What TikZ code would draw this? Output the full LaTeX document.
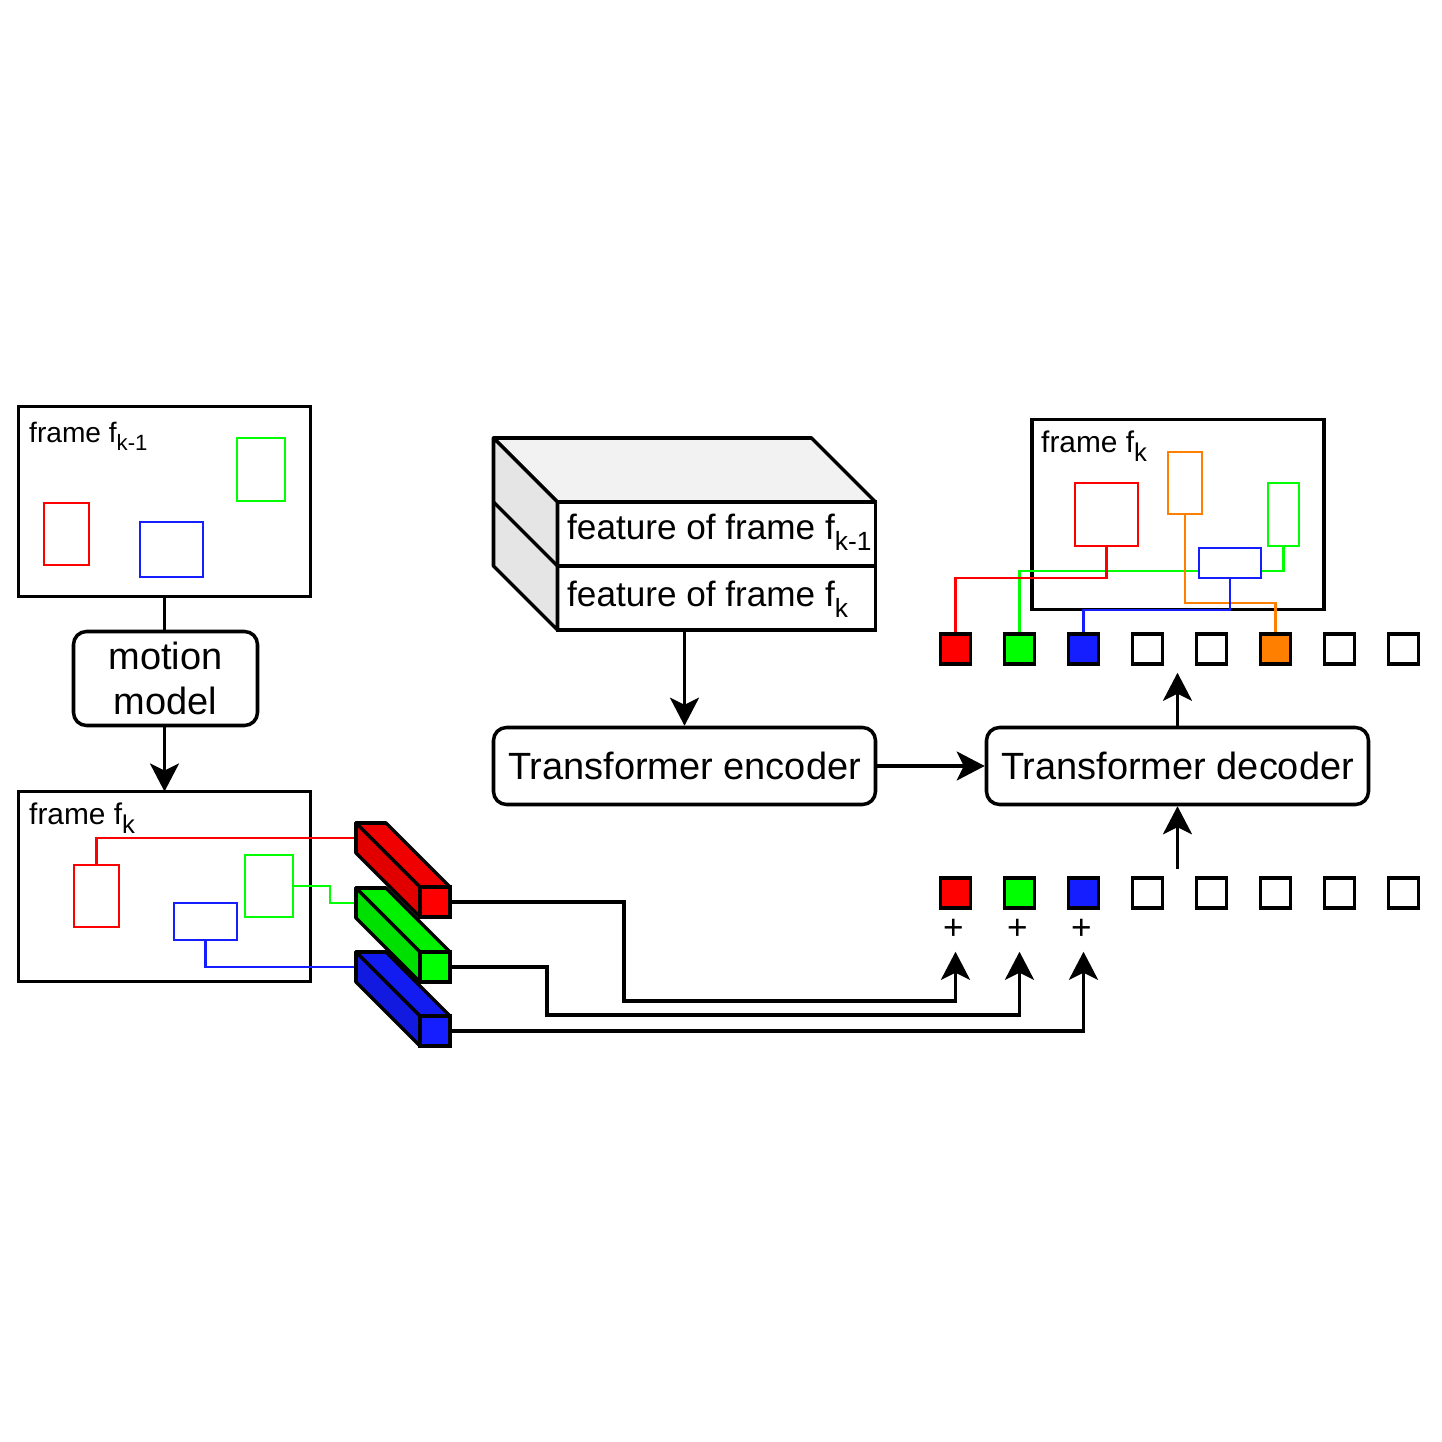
\documentclass[tikz,border=0pt]{standalone}
\usepackage{fontspec}
\setmainfont{Liberation Sans}
\usetikzlibrary{arrows.meta}
\definecolor{objred}{RGB}{255,0,0}
\definecolor{objgreen}{RGB}{0,255,0}
\definecolor{objblue}{RGB}{20,30,255}
\definecolor{objorange}{RGB}{255,128,0}
\newcommand{\fsub}[2]{\raisebox{-0.3em}{\fontsize{#1}{#1}\selectfont #2}}

\begin{document}
\begin{tikzpicture}[>={Stealth[length=0.28cm,width=0.29cm,inset=0.07cm]},
  framebox/.style={draw, line width=1pt, minimum width=2.92cm, minimum height=1.90cm, inner sep=0, outer sep=0},
  obj/.style={draw, line width=0.7pt, fill=white, inner sep=0, outer sep=0},
  block/.style={draw, rounded corners=0.13cm, line width=1pt, inner sep=0, font=\fontsize{10.8}{12.8}\selectfont},
  featbox/.style={draw, line width=1pt, minimum width=3.18cm, minimum height=0.64cm, inner sep=0, outer sep=0},
  feattxt/.style={anchor=base west, inner sep=0, font=\fontsize{10}{12}\selectfont},
  tok/.style={draw, line width=1pt, minimum size=0.30cm, inner sep=0},
  bar/.style={draw, line width=1pt, minimum size=0.30cm, inner sep=0, outer sep=0},
  face/.style={draw, line width=1pt, line join=round},
  link/.style={line width=0.9pt},
  track/.style={line width=0.7pt},
  lbl/.style={inner sep=0, anchor=north west, font=\fontsize{8.5}{10}\selectfont}]
  \useasboundingbox (0,0) rectangle (14.42,14.42);

  % frame f_{k-1}
  \node[framebox] (prev) at (1.645,9.405) {};
  \node[lbl, font=\fontsize{8}{10}\selectfont] (prevlbl) at ([shift={(0.10,-0.15)}]prev.north west) {frame f\fsub{6.3}{k-1}};
  \node[obj, draw=objred, minimum width=0.45cm, minimum height=0.62cm] (pR) at (0.665,9.08) {};
  \node[obj, draw=objblue, minimum width=0.63cm, minimum height=0.55cm] (pB) at (1.715,8.925) {};
  \node[obj, draw=objgreen, minimum width=0.48cm, minimum height=0.63cm] (pG) at (2.61,9.725) {};

  % motion model
  \node[block, minimum width=1.84cm, minimum height=0.94cm, align=center] (motion) at (1.655,7.635) {motion\\model};
  \draw[link] (prev.south) -- (prev.south |- motion.north);

  % frame f_k (prediction)
  \node[framebox] (cur) at (1.645,5.555) {};
  \node[lbl] (curlbl) at ([shift={(0.10,-0.105)}]cur.north west) {frame f\fsub{7.3}{k}};
  \node[obj, draw=objred, minimum width=0.45cm, minimum height=0.62cm] (cR) at (0.965,5.46) {};
  \node[obj, draw=objgreen, minimum width=0.48cm, minimum height=0.62cm] (cG) at (2.69,5.56) {};
  \node[obj, draw=objblue, minimum width=0.63cm, minimum height=0.37cm] (cB) at (2.055,5.205) {};
  \draw[link,->] (prev.south |- motion.south) -- (cur.north);

  % query bars
  \node[bar, fill=objred] (barR) at (4.35,5.40) {};
  \node[bar, fill=objgreen] (barG) at (4.35,4.75) {};
  \node[bar, fill=objblue] (barB) at (4.35,4.11) {};
  \draw[track, objred] (cR.north) |- ([shift={(-0.64,0.64)}]barR.west);
  \draw[track, objgreen] (cG.east) -- ++(0.37,0) |- ([shift={(-0.64,0.64)}]barG.west);
  \draw[track, objblue] (cB.south) |- ([shift={(-0.64,0.64)}]barB.west);
  \foreach \b/\col in {barR/objred, barG/objgreen, barB/objblue} {
    \draw[face, fill=\col!94!black] (\b.north west) -- ++(-0.64,0.64) -- ++(0.30,0) -- (\b.north east) -- cycle;
    \draw[face, fill=\col!88!black] (\b.north west) -- ++(-0.64,0.64) -- ++(0,-0.30) -- (\b.south west) -- cycle;
  }

  % feature block
  \node[featbox] (featA) at (7.165,9.08) {};
  \node[featbox] (featB) at (7.165,8.44) {};
  \draw[face, fill=black!5] (featA.north west) -- ++(-0.64,0.64) -- ++(3.18,0) -- (featA.north east) -- cycle;
  \draw[face, fill=black!10] (featA.north west) -- ++(-0.64,0.64) -- ++(0,-1.28) -- (featB.south west) -- cycle;
  \draw[face] (featA.south west) -- ++(-0.64,0.64);
  \node[feattxt] (featAtxt) at ([shift={(0.09,-0.06)}]featA.west) {feature of frame f\fsub{7.5}{k-1}};
  \node[feattxt] (featBtxt) at ([shift={(0.09,-0.09)}]featB.west) {feature of frame f\fsub{7.5}{k}};

  % transformer
  \node[block, minimum width=3.82cm, minimum height=0.77cm] (enc) at (6.845,6.76) {Transformer encoder};
  \node[block, minimum width=3.82cm, minimum height=0.77cm] (dec) at (11.775,6.76) {Transformer decoder};
  \draw[link,->] (enc.north |- featB.south) -- (enc.north);
  \draw[link,->] (enc.east) -- (dec.west);

  % query tokens
  \foreach \i/\f in {1/objred, 2/objgreen, 3/objblue, 4/white, 5/white, 6/white, 7/white, 8/white}
    \node[tok, fill=\f] (tB\i) at ({9.555+0.64*(\i-1)},5.49) {};
  \foreach \i in {1,2,3}
    \node[inner sep=0, font=\fontsize{10}{12}\selectfont] (pl\i) at ([shift={(-0.02,-0.36)}]tB\i.center) {+};
  \draw[link,->, shorten >=0.42cm] (barR.east) -| (6.24,4.41) -| (tB1.south);
  \draw[link,->, shorten >=0.42cm] (barG.east) -| (5.47,4.27) -| (tB2.south);
  \draw[link,->, shorten >=0.42cm] (barB.east) -| (tB3.south);
  \draw[link,->] ([yshift=0.07cm]dec.south |- tB4.north) -- (dec.south);

  % output tokens
  \foreach \i/\f in {1/objred, 2/objgreen, 3/objblue, 4/white, 5/white, 6/objorange, 7/white, 8/white}
    \node[tok, fill=\f] (tT\i) at ({9.555+0.64*(\i-1)},7.93) {};
  \draw[link,->] (dec.north) -- ([yshift=-0.07cm]dec.north |- tT4.south);

  % frame f_k (output)
  \node[framebox] (nxt) at (11.78,9.275) {};
  \node[lbl] (nxtlbl) at ([shift={(0.085,-0.105)}]nxt.north west) {frame f\fsub{7.3}{k}};
  \node[obj, draw=objred, minimum width=0.63cm, minimum height=0.63cm] (nR) at (11.065,9.275) {};
  \node[obj, draw=objorange, minimum width=0.34cm, minimum height=0.62cm] (nO) at (11.85,9.59) {};
  \node[obj, draw=objgreen, minimum width=0.31cm, minimum height=0.63cm] (nG) at (12.835,9.275) {};
  \draw[track, objgreen] (nG.south) -- ++(0,-0.25) -| (tT2.north);
  \draw[track, objorange] (nO.south) -- ++(0,-0.89) -| (tT6.north);
  \node[obj, draw=objblue, minimum width=0.62cm, minimum height=0.30cm] (nB) at (12.30,8.79) {};
  \draw[track, objred] (nR.south) -- ++(0,-0.32) -| (tT1.north);
  \draw[track, objblue] (nB.south) -- ++(0,-0.32) -| (tT3.north);
\end{tikzpicture}
\end{document}
